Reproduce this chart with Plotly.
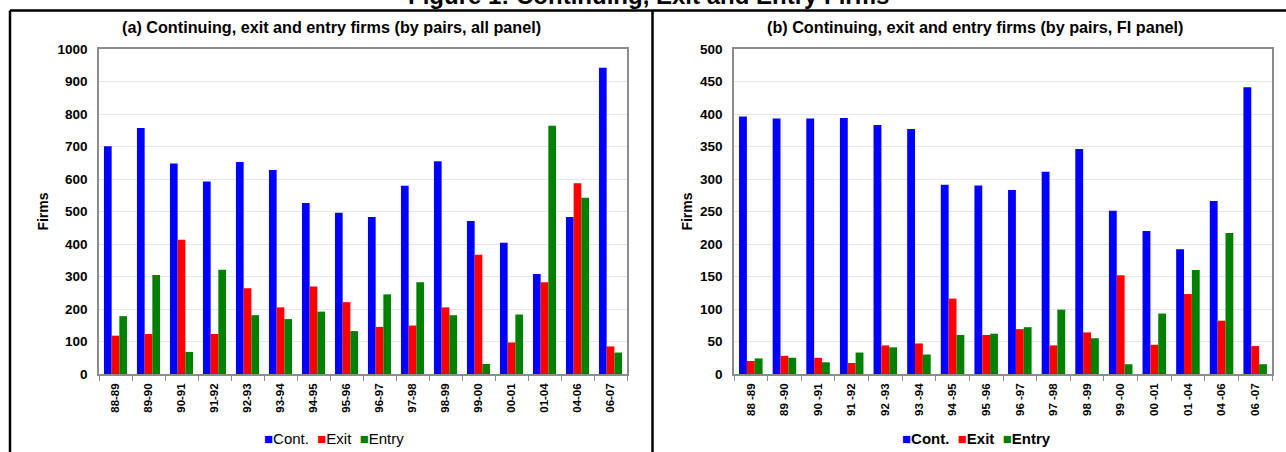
import plotly.graph_objects as go

W, H = 1286, 452

periods_a = ["88-89", "89-90", "90-91", "91-92", "92-93", "93-94", "94-95", "95-96",
             "96-97", "97-98", "98-99", "99-00", "00-01", "01-04", "04-06", "06-07"]
periods_b = ["88 -89", "89 -90", "90 -91", "91 -92", "92 -93", "93 -94", "94 -95", "95 -96",
             "96 -97", "97 -98", "98 -99", "99 -00", "00 -01", "01 -04", "04 -06", "06 -07"]

cont_a = [701, 757, 648, 592, 652, 628, 526, 496, 483, 579, 655, 471, 404, 308, 483, 942]
exit_a = [118, 123, 413, 123, 264, 205, 269, 221, 145, 149, 205, 367, 97, 282, 587, 85]
entry_a = [178, 305, 68, 321, 181, 169, 192, 132, 245, 282, 181, 31, 183, 764, 542, 66]

cont_b = [396, 393, 393, 394, 383, 377, 291, 290, 283, 311, 346, 251, 220, 192, 266, 441]
exit_b = [20, 28, 25, 17, 44, 47, 116, 60, 69, 44, 64, 152, 45, 123, 82, 43]
entry_b = [24, 25, 18, 33, 41, 30, 60, 62, 72, 99, 55, 15, 93, 160, 217, 15]

series_names = ["Cont.", "Exit", "Entry"]
colors = ["#0000FF", "#FF0000", "#008000"]

FONT = "Liberation Sans, Arial, sans-serif"

fig = go.Figure()
for name, col, vals in zip(series_names, colors, [cont_a, exit_a, entry_a]):
    fig.add_trace(go.Bar(x=periods_a, y=vals, name=name, marker=dict(color=col, line=dict(width=0)),
                         xaxis="x", yaxis="y", showlegend=False))
for name, col, vals in zip(series_names, colors, [cont_b, exit_b, entry_b]):
    fig.add_trace(go.Bar(x=periods_b, y=vals, name=name, marker=dict(color=col, line=dict(width=0)),
                         xaxis="x2", yaxis="y2", showlegend=False))

def px_x(p):
    return p / W

def px_y(p):
    return 1 - p / H

tickfont_y = dict(family=FONT, size=13.5, color="#000", weight="bold")
tickfont_x = dict(family=FONT, size=11.5, color="#000", weight="bold")

common_x = dict(type="category", showline=True, linecolor="#8c8c8c", linewidth=1.5, mirror=True,
                ticks="outside", ticklen=5, tickcolor="#8c8c8c", tickson="boundaries",
                tickangle=-90, tickfont=tickfont_x, showgrid=False, fixedrange=True,
                ticklabelstandoff=3, automargin=False)
common_y = dict(showline=True, linecolor="#8c8c8c", linewidth=1.5, mirror=True,
                showgrid=True, gridcolor="#e6e6e6", gridwidth=1, zeroline=False,
                ticks="", tickfont=tickfont_y, fixedrange=True, ticklabelstandoff=7,
                automargin=False)

fig.update_layout(
    width=W, height=H,
    margin=dict(l=0, r=0, t=0, b=0, autoexpand=False),
    paper_bgcolor="white", plot_bgcolor="white",
    barmode="group", bargap=0.3, bargroupgap=0,
    showlegend=False,
    font=dict(family=FONT, color="#000"),
    xaxis=dict(domain=[px_x(99), px_x(627)], anchor="y", **common_x),
    yaxis=dict(domain=[px_y(374), px_y(49)], anchor="x", range=[0, 1000], dtick=100,
               title=dict(text="Firms", font=dict(family=FONT, size=14, weight="bold"), standoff=6),
               **common_y),
    xaxis2=dict(domain=[px_x(734), px_x(1272)], anchor="y2", **common_x),
    yaxis2=dict(domain=[px_y(374), px_y(49)], anchor="x2", range=[0, 500], dtick=50,
                title=dict(text="Firms", font=dict(family=FONT, size=14, weight="bold"), standoff=4),
                **common_y),
)

# Panel frames
line = dict(color="black", width=2.5)
fig.add_shape(type="line", xref="paper", yref="paper", x0=px_x(10), x1=1.01, y0=px_y(10.5), y1=px_y(10.5), line=line)
fig.add_shape(type="line", xref="paper", yref="paper", x0=px_x(10), x1=px_x(10), y0=px_y(10.5), y1=-0.01, line=line)
fig.add_shape(type="line", xref="paper", yref="paper", x0=px_x(652.5), x1=px_x(652.5), y0=px_y(10.5), y1=-0.01, line=line)

# Titles
fig.add_annotation(text="<b>Figure 1: Continuing, Exit and Entry Firms</b>", xref="paper", yref="paper",
                   x=px_x(648), y=px_y(-4.5), xanchor="center", yanchor="middle", showarrow=False,
                   font=dict(family=FONT, size=24, color="#000"))
fig.add_annotation(text="<b>(a) Continuing, exit and entry firms (by pairs, all panel)</b>", xref="paper", yref="paper",
                   x=px_x(331), y=px_y(27), xanchor="center", yanchor="middle", showarrow=False,
                   font=dict(family=FONT, size=16.2, color="#000"))
fig.add_annotation(text="<b>(b) Continuing, exit and entry firms (by pairs, FI panel)</b>", xref="paper", yref="paper",
                   x=px_x(975), y=px_y(27), xanchor="center", yanchor="middle", showarrow=False,
                   font=dict(family=FONT, size=16.2, color="#000"))

# Legends
def legend_text(bold):
    parts = []
    for name, col in zip(series_names, colors):
        lbl = f"<b>{name}</b>" if bold else name
        parts.append(f"<span style='color:{col}'>■</span>{lbl}")
    return "  ".join(parts)

fig.add_annotation(text=legend_text(False), xref="paper", yref="paper", x=px_x(334), y=px_y(438),
                   xanchor="center", yanchor="middle", showarrow=False,
                   font=dict(family=FONT, size=15, color="#000"))
fig.add_annotation(text=legend_text(True), xref="paper", yref="paper", x=px_x(976), y=px_y(438),
                   xanchor="center", yanchor="middle", showarrow=False,
                   font=dict(family=FONT, size=15, color="#000"))

fig.write_html("out.html", config={"displayModeBar": False},
               post_script="document.body.style.margin='0';")
